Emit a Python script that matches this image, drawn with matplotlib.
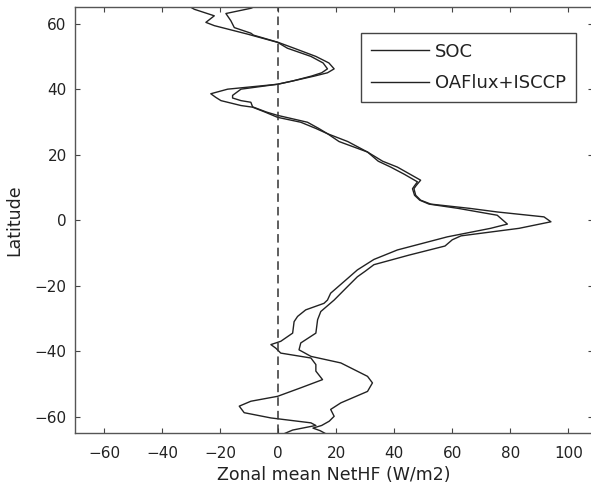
import numpy as np
import matplotlib
matplotlib.use('Agg')
from matplotlib import pyplot as plt

# data (latitude, zonal mean net heat flux)
lat_soc = [66, 64.7, 63.1, 60.9, 58.8, 57.1, 56.5, 54.3, 52.5, 50, 48, 46.2, 45, 44,
           42.5, 41.5, 40, 38.1, 37.3, 36.5, 36, 34.6, 33, 32, 29.9, 28, 26.4, 24,
           20.8, 18, 16.2, 14, 12.2, 10.5, 9.6, 7.6, 6.1, 4.9, 3.6, 2.5, 1.0, -0.5,
           -2.5, -4.8, -6.0, -7.9, -10.7, -13.6, -15.6, -17.3, -20.3, -24.4, -27.9,
           -30.4, -34.5, -37.5, -39.6, -41.6, -43.6, -47.7, -49.7, -52.3, -55.8,
           -57.8, -59.9, -61.4, -62.7, -63.5, -64.3, -66]
soc = [-6, -9.4, -18.0, -16.3, -15.1, -9.4, -8.5, 0, 5.5, 13, 17.5, 19.3, 17, 12.5,
       5, -0.2, -12.8, -15.7, -15.7, -12.8, -9.4, -8.8, -4, -0.2, 10.1, 14, 17, 24,
       30.8, 36, 41.1, 45.5, 49.1, 47.5, 46.8, 47.4, 49.1, 52.6, 66, 75.5, 91.6, 94,
       83, 63, 60, 57.5, 45, 33, 30, 27.3, 23.9, 19.3, 14.7,
       13.6, 13, 7.8, 7.2, 11.3, 21.6, 30.8, 32.5, 30.8, 21.6,
       18.1, 19.3, 17.6, 15, 12, 14.5, 18]

lat_oaf = [66, 64.4, 62.4, 60.4, 59.4, 56.8, 54.3, 52.5, 50, 48, 46.2, 45, 44, 42.5,
           41.5, 40, 38.6, 37.5, 36.5, 35, 34.5, 33, 31.4, 29.9, 28, 26.4, 24, 20.8,
           18, 16.2, 14, 11.7, 10.5, 9.6, 7.6, 6.1, 4.9, 3.6, 1.5, -1.2, -2.5, -5.1,
           -9.1, -12, -15.2, -18.3, -22.3, -24.4, -25.4, -27.4, -29.4, -31, -34.5,
           -37, -38, -39.1, -40.6, -42.1, -44.1, -46.1, -48.7, -51.2, -53.8, -55.3,
           -56.8, -58.8, -60.4, -61.9, -62.7, -64.1, -66]
oaf = [-32, -28.9, -22, -24.9, -22, -10.5, -0.2, 3.2, 11.3, 15.5, 17, 15, 11.5, 5,
       -0.2, -17.4, -23.2, -21.5, -19.7, -12.8, -8.8, -4.5, -0.2, 7.8, 13, 17, 21, 30.8,
       34.5, 38.8, 43.5, 48, 47, 46.3, 47, 48.8, 52, 62, 75.5, 79, 73.2, 58.3,
       41.1, 33, 27.3, 23.3, 18.1, 17, 15.8, 9.5, 6.7, 5.5, 5,
       0.9, -2.5, -0.8, 0.9, 11.3, 13, 13, 15.3, 7.8, -0.2, -9.4,
       -13.4, -11.7, -2.5, 11.3, 13, 5, 0]

xticks = [-60, -40, -20, 0, 20, 40, 60, 80, 100]
yticks = [-60, -40, -20, 0, 20, 40, 60]

fig = plt.figure(figsize=(5.91, 4.86), dpi=100)
ax = fig.add_axes([75 / 591, 1 - 433 / 486, 518 / 591, 425.7 / 486])

ax.plot(soc, lat_soc, color='#222222', lw=1.0, label='SOC')
ax.plot(oaf, lat_oaf, color='#222222', lw=1.0, label='OAFlux+ISCCP')
ax.plot([0, 0], [-65, 65], color='#333333', lw=1.1, linestyle=(0, (5.6, 3.3)))

ax.set_xlim(-70, 108.5)
ax.set_ylim(-65, 65)
ax.set_xticks(xticks)
ax.set_yticks(yticks)
ax.set_xticklabels([str(v).replace('-', '\u2212') for v in xticks])
ax.set_yticklabels([str(v).replace('-', '\u2212') for v in yticks])
ax.tick_params(direction='in', length=3.5, width=0.8, color='#444444', labelcolor='#222222',
               labelsize=11, top=True, right=True)
ax.tick_params(axis='x', pad=9)
ax.tick_params(axis='y', pad=6)
for s in ax.spines.values():
    s.set_color('#555555')
    s.set_linewidth(1.0)

ax.set_xlabel('Zonal mean NetHF (W/m2)', fontsize=12.5, color='#222222', labelpad=4)
ax.set_ylabel('Latitude', fontsize=12.5, color='#222222', labelpad=8)

leg = ax.legend(loc='upper right', bbox_to_anchor=(0.967, 0.940), borderaxespad=0,
                fontsize=13, handlelength=3.2, handletextpad=0.35, labelspacing=0.75,
                borderpad=0.55, fancybox=False, framealpha=1)
leg.get_frame().set_edgecolor('#444444')
leg.get_frame().set_linewidth(1.0)
for t in leg.get_texts():
    t.set_color('#222222')

plt.savefig('out.png', dpi=100)
